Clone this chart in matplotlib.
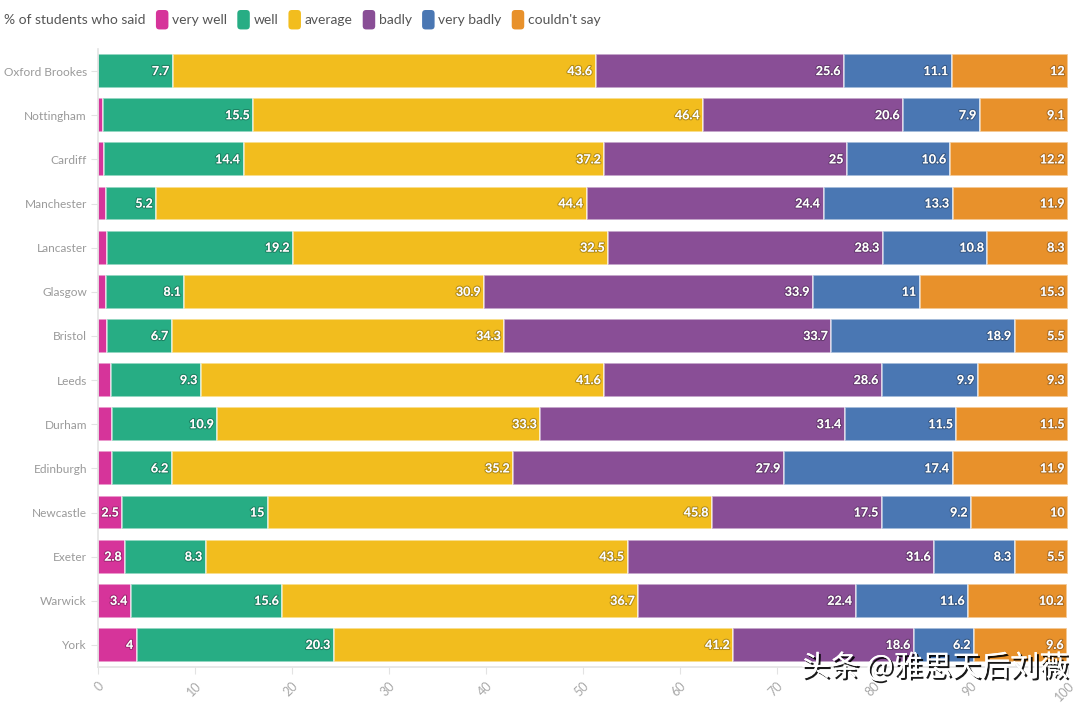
import matplotlib
matplotlib.use("Agg")
import matplotlib.pyplot as plt
import matplotlib.patheffects as pe
from matplotlib.offsetbox import HPacker, TextArea, DrawingArea, AnchoredOffsetbox
from matplotlib.patches import FancyBboxPatch
import numpy as np

universities = ["Oxford Brookes", "Nottingham", "Cardiff", "Manchester", "Lancaster",
                "Glasgow", "Bristol", "Leeds", "Durham", "Edinburgh", "Newcastle",
                "Exeter", "Warwick", "York"]
categories = ["very well", "well", "average", "badly", "very badly", "couldn't say"]
very_well = [0, 0.5, 0.6, 0.8, 0.9, 0.8, 0.9, 1.3, 1.4, 1.4, 2.5, 2.8, 3.4, 4]
well = [7.7, 15.5, 14.4, 5.2, 19.2, 8.1, 6.7, 9.3, 10.9, 6.2, 15, 8.3, 15.6, 20.3]
average = [43.6, 46.4, 37.2, 44.4, 32.5, 30.9, 34.3, 41.6, 33.3, 35.2, 45.8, 43.5, 36.7, 41.2]
badly = [25.6, 20.6, 25, 24.4, 28.3, 33.9, 33.7, 28.6, 31.4, 27.9, 17.5, 31.6, 22.4, 18.6]
very_badly = [11.1, 7.9, 10.6, 13.3, 10.8, 11, 18.9, 9.9, 11.5, 17.4, 9.2, 8.3, 11.6, 6.2]
couldnt_say = [12, 9.1, 12.2, 11.9, 8.3, 15.3, 5.5, 9.3, 11.5, 11.9, 10, 5.5, 10.2, 9.6]
x_ticks = [0, 10, 20, 30, 40, 50, 60, 70, 80, 90, 100]

series = [very_well, well, average, badly, very_badly, couldnt_say]
colors = ["#d6349a", "#27ad84", "#f2bd1e", "#894e96", "#4a77b3", "#e8912b"]

plt.rcParams['font.family'] = ['Lato', 'DejaVu Sans']

fig = plt.figure(figsize=(10.8, 7.04), dpi=100)
ax = fig.add_axes([98/1080, 37/704, 970/1080, (667-49)/704])

y = np.arange(len(universities))
left = np.zeros(len(universities))
shadow = [pe.withStroke(linewidth=1.6, foreground=(0, 0, 0, 0.25))]
for vals, col in zip(series, colors):
    vals = np.array(vals, dtype=float)
    ax.barh(y, vals, left=left, height=0.77, color=col, edgecolor=(1, 1, 1, 0.6), linewidth=1.2)
    for yi, (l, v) in enumerate(zip(left, vals)):
        if v >= 2:
            ax.text(l + v - 0.35, yi, f"{v:g}", ha="right", va="center", color="white",
                    fontsize=9, fontweight="bold", path_effects=shadow)
    left += vals

ax.set_xlim(0, 100)
ax.set_ylim(len(universities) - 0.5, -0.5)
ax.set_yticks(y)
ax.set_yticklabels(universities, color="#9a9a9a", fontsize=8.6)
ax.set_xticks(x_ticks)
ax.set_xticklabels([str(t) for t in x_ticks], rotation=45, ha="right", va="top",
                   rotation_mode="anchor", color="#a8a8a8", fontsize=9)
for s in ["top", "right"]:
    ax.spines[s].set_visible(False)
for s in ["left", "bottom"]:
    ax.spines[s].set_color("#e3e3e3")
    ax.spines[s].set_linewidth(1.2)
ax.tick_params(axis="y", length=5, color="#e3e3e3", pad=3)
ax.tick_params(axis="x", length=5, color="#e3e3e3", pad=4)

# legend
items = [TextArea("% of students who said", textprops=dict(color="#555555", fontsize=10))]
for lab, col in zip(categories, colors):
    da = DrawingArea(10, 14, 0, 0)
    da.add_artist(FancyBboxPatch((0.5, 0), 9, 14, boxstyle="round,pad=0,rounding_size=2.5",
                                 facecolor=col, edgecolor="none"))
    items.append(HPacker(children=[da, TextArea(lab, textprops=dict(color="#555555", fontsize=10))],
                         pad=0, sep=2, align="center"))
pack = HPacker(children=items, pad=0, sep=7, align="center")
anch = AnchoredOffsetbox(loc="upper left", child=pack, pad=0, frameon=False,
                         bbox_to_anchor=(4/1080, 1 - 10/704), bbox_transform=fig.transFigure,
                         borderpad=0)
fig.add_artist(anch)

# watermark
fig.text(1068/1080, 1 - 668/704, "头条 @雅思天后刘薇", ha="right", va="center", color="white",
         fontsize=21, family=["Noto Sans CJK SC", "DejaVu Sans"],
         path_effects=[pe.withSimplePatchShadow(offset=(1.5, -1.5), shadow_rgbFace="black", alpha=0.9),
                       pe.Normal()])

fig.savefig("out.png", dpi=100)
